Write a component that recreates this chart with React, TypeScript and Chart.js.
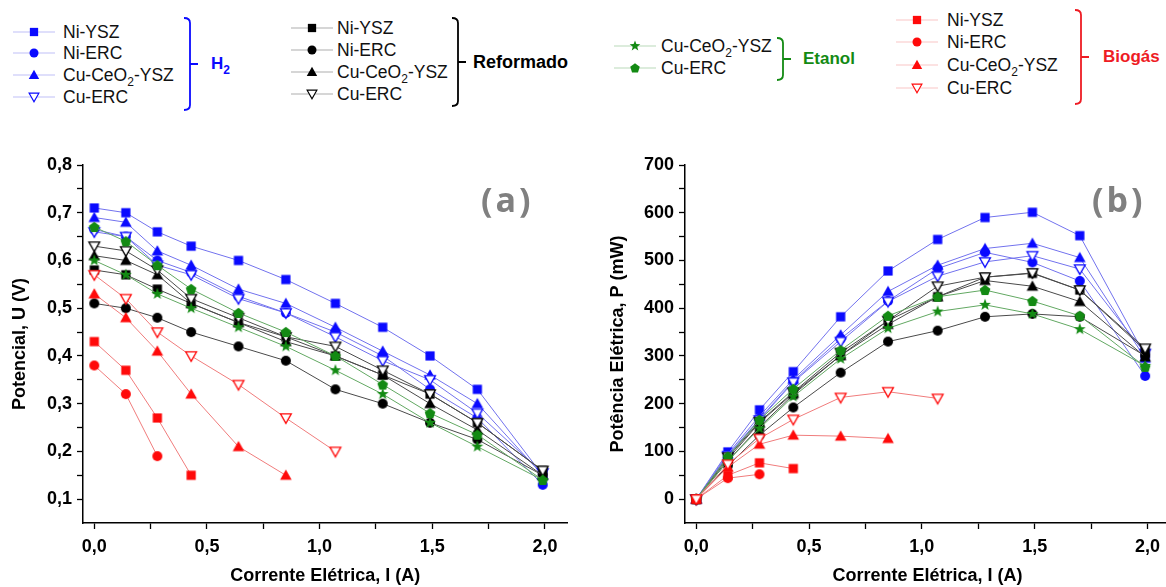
import React, { useEffect, useRef } from 'react';
import { Chart, registerables } from 'chart.js';

Chart.register(...registerables);

const FONT = "'Liberation Sans', Arial, Helvetica, sans-serif";

// ---------- data ----------
const currentI = [0, 0.14, 0.28, 0.43, 0.64, 0.85, 1.07, 1.28, 1.49, 1.7, 1.99];

const xTickValues = [0, 0.25, 0.5, 0.75, 1, 1.25, 1.5, 1.75, 2];
const xTickLabels = ['0,0', '', '0,5', '', '1,0', '', '1,5', '', '2,0'];
const uTickValues = [0.1, 0.15, 0.2, 0.25, 0.3, 0.35, 0.4, 0.45, 0.5, 0.55, 0.6, 0.65, 0.7, 0.75, 0.8];
const uTickLabels = ['0,1', '', '0,2', '', '0,3', '', '0,4', '', '0,5', '', '0,6', '', '0,7', '', '0,8'];
const pTickValues = [0, 50, 100, 150, 200, 250, 300, 350, 400, 450, 500, 550, 600, 650, 700];
const pTickLabels = ['0', '', '100', '', '200', '', '300', '', '400', '', '500', '', '600', '', '700'];

// Panel (a): Potencial U (V)
const uH2NiYSZ = [0.71, 0.70, 0.66, 0.63, 0.60, 0.56, 0.51, 0.46, 0.40, 0.33, 0.15];
const uH2NiERC = [0.665, 0.65, 0.60, 0.575, 0.525, 0.49, 0.45, 0.40, 0.33, 0.27, 0.13];
const uH2CuCeO2 = [0.69, 0.68, 0.62, 0.59, 0.54, 0.51, 0.46, 0.41, 0.36, 0.30, 0.15];
const uH2CuERC = [0.66, 0.65, 0.59, 0.57, 0.52, 0.49, 0.44, 0.39, 0.35, 0.28, 0.155];
const uRefNiYSZ = [0.58, 0.57, 0.54, 0.51, 0.47, 0.44, 0.40, 0.36, 0.32, 0.26, 0.16];
const uRefNiERC = [0.51, 0.50, 0.48, 0.45, 0.42, 0.39, 0.33, 0.30, 0.26, 0.225, 0.15];
const uRefCuCeO2 = [0.61, 0.60, 0.57, 0.51, 0.47, 0.43, 0.40, 0.36, 0.30, 0.245, 0.15];
const uRefCuERC = [0.63, 0.62, 0.58, 0.52, 0.48, 0.44, 0.42, 0.37, 0.32, 0.26, 0.16];
const uEtCuCeO2 = [0.60, 0.57, 0.53, 0.50, 0.46, 0.42, 0.37, 0.32, 0.26, 0.21, 0.14];
const uEtCuERC = [0.67, 0.64, 0.59, 0.54, 0.49, 0.45, 0.40, 0.34, 0.28, 0.235, 0.14];
const uBioNiYSZ = [0.43, 0.37, 0.27, 0.15];
const uBioNiERC = [0.38, 0.32, 0.19];
const uBioCuCeO2 = [0.53, 0.48, 0.41, 0.32, 0.21, 0.15];
const uBioCuERC = [0.57, 0.52, 0.45, 0.40, 0.34, 0.27, 0.20];

// Panel (b): Potência P (mW)
const pH2NiYSZ = [0, 99, 187, 267, 382, 478, 544, 590, 601, 552, 300];
const pH2NiERC = [0, 92, 168, 247, 336, 415, 483, 517, 496, 457, 258];
const pH2CuCeO2 = [0, 95, 174, 251, 344, 435, 490, 525, 536, 506, 295];
const pH2CuERC = [0, 91, 166, 245, 330, 414, 467, 497, 510, 482, 305];
const pRefNiYSZ = [0, 80, 151, 219, 301, 374, 424, 465, 473, 438, 312];
const pRefNiERC = [0, 70, 134, 192, 265, 330, 353, 382, 388, 382, 300];
const pRefCuCeO2 = [0, 84, 160, 222, 301, 366, 424, 458, 446, 414, 298];
const pRefCuERC = [0, 88, 162, 224, 307, 374, 446, 465, 474, 438, 316];
const pEtCuCeO2 = [0, 80, 148, 215, 294, 358, 393, 407, 388, 356, 279];
const pEtCuERC = [0, 89, 166, 231, 312, 384, 424, 438, 415, 384, 277];
const pBioNiYSZ = [0, 50, 76, 64];
const pBioNiERC = [0, 44, 52];
const pBioCuCeO2 = [0, 67, 115, 134, 132, 127];
const pBioCuERC = [0, 73, 127, 167, 213, 225, 211];

// ---------- styles ----------
type Shape = 'square' | 'circle' | 'triangle' | 'down' | 'star' | 'pentagon';

const BLUE = '#0a0aff';
const BLACK = '#000000';
const GREEN = '#138a13';
const RED = '#ff0a0a';
const BLUE_LINE = '#7272ee';
const BLACK_LINE = '#4a4a4a';
const GREEN_LINE = '#62a862';
const RED_LINE = '#f07c7c';

interface Series {
  label: string;
  group: string;
  shape: Shape;
  color: string;
  line: string;
  u: number[];
  p: number[];
}

const seriesList: Series[] = [
  { label: 'Ni-YSZ', group: 'H2', shape: 'square', color: BLUE, line: BLUE_LINE, u: uH2NiYSZ, p: pH2NiYSZ },
  { label: 'Ni-ERC', group: 'H2', shape: 'circle', color: BLUE, line: BLUE_LINE, u: uH2NiERC, p: pH2NiERC },
  { label: 'Cu-CeO2-YSZ', group: 'H2', shape: 'triangle', color: BLUE, line: BLUE_LINE, u: uH2CuCeO2, p: pH2CuCeO2 },
  { label: 'Cu-ERC', group: 'H2', shape: 'down', color: BLUE, line: BLUE_LINE, u: uH2CuERC, p: pH2CuERC },
  { label: 'Ni-YSZ', group: 'Reformado', shape: 'square', color: BLACK, line: BLACK_LINE, u: uRefNiYSZ, p: pRefNiYSZ },
  { label: 'Ni-ERC', group: 'Reformado', shape: 'circle', color: BLACK, line: BLACK_LINE, u: uRefNiERC, p: pRefNiERC },
  { label: 'Cu-CeO2-YSZ', group: 'Reformado', shape: 'triangle', color: BLACK, line: BLACK_LINE, u: uRefCuCeO2, p: pRefCuCeO2 },
  { label: 'Cu-ERC', group: 'Reformado', shape: 'down', color: BLACK, line: BLACK_LINE, u: uRefCuERC, p: pRefCuERC },
  { label: 'Cu-CeO2-YSZ', group: 'Etanol', shape: 'star', color: GREEN, line: GREEN_LINE, u: uEtCuCeO2, p: pEtCuCeO2 },
  { label: 'Cu-ERC', group: 'Etanol', shape: 'pentagon', color: GREEN, line: GREEN_LINE, u: uEtCuERC, p: pEtCuERC },
  { label: 'Ni-YSZ', group: 'Biogás', shape: 'square', color: RED, line: RED_LINE, u: uBioNiYSZ, p: pBioNiYSZ },
  { label: 'Ni-ERC', group: 'Biogás', shape: 'circle', color: RED, line: RED_LINE, u: uBioNiERC, p: pBioNiERC },
  { label: 'Cu-CeO2-YSZ', group: 'Biogás', shape: 'triangle', color: RED, line: RED_LINE, u: uBioCuCeO2, p: pBioCuCeO2 },
  { label: 'Cu-ERC', group: 'Biogás', shape: 'down', color: RED, line: RED_LINE, u: uBioCuERC, p: pBioCuERC },
];

// legend layout (positions only)
interface GroupLayout {
  group: string;
  title: string;
  color: string;
  segX: number;
  textX: number;
  rows: number[];
  bracketX: number;
  bracketTop: number;
  bracketBottom: number;
  bracketMid: number;
  titleX: number;
  titleSize: number;
}

const groupLayouts: GroupLayout[] = [
  { group: 'H2', title: 'H2', color: BLUE, segX: 13, textX: 63, rows: [32, 53, 75, 97], bracketX: 190, bracketTop: 18, bracketBottom: 110, bracketMid: 64, titleX: 211, titleSize: 17 },
  { group: 'Reformado', title: 'Reformado', color: BLACK, segX: 291, textX: 337, rows: [28, 50, 72, 94], bracketX: 458, bracketTop: 18, bracketBottom: 106, bracketMid: 62, titleX: 473, titleSize: 18 },
  { group: 'Etanol', title: 'Etanol', color: GREEN, segX: 614, textX: 661, rows: [46, 68], bracketX: 783, bracketTop: 38, bracketBottom: 80, bracketMid: 59, titleX: 803, titleSize: 17 },
  { group: 'Biogás', title: 'Biogás', color: '#ee1c24', segX: 896, textX: 947, rows: [20, 42, 65, 88], bracketX: 1081, bracketTop: 10, bracketBottom: 104, bracketMid: 57, titleX: 1103, titleSize: 17 },
];

// ---------- marker geometry ----------
function shapePoints(shape: Shape, s: number): number[][] {
  switch (shape) {
    case 'square': {
      const h = s * 0.46;
      return [[-h, -h], [h, -h], [h, h], [-h, h]];
    }
    case 'triangle':
      return [[0, -0.58 * s], [0.58 * s, 0.44 * s], [-0.58 * s, 0.44 * s]];
    case 'down':
      return [[-0.54 * s, -0.42 * s], [0.54 * s, -0.42 * s], [0, 0.54 * s]];
    case 'star': {
      const pts: number[][] = [];
      for (let i = 0; i < 10; i++) {
        const r = i % 2 === 0 ? 0.62 * s : 0.26 * s;
        const a = -Math.PI / 2 + (i * Math.PI) / 5;
        pts.push([r * Math.cos(a), r * Math.sin(a)]);
      }
      return pts;
    }
    case 'pentagon': {
      const pts: number[][] = [];
      for (let i = 0; i < 5; i++) {
        const a = -Math.PI / 2 + (i * 2 * Math.PI) / 5;
        pts.push([0.56 * s * Math.cos(a), 0.56 * s * Math.sin(a) + 0.04 * s]);
      }
      return pts;
    }
    default:
      return [];
  }
}

function makeMarker(shape: Shape, color: string, size: number): HTMLCanvasElement {
  const c = document.createElement('canvas');
  const dim = 18;
  c.width = dim;
  c.height = dim;
  const ctx = c.getContext('2d') as CanvasRenderingContext2D;
  const cx = dim / 2;
  const cy = dim / 2;
  ctx.beginPath();
  if (shape === 'circle') {
    ctx.arc(cx, cy, size / 2, 0, Math.PI * 2);
  } else {
    shapePoints(shape, size).forEach(([px, py], i) => {
      if (i === 0) ctx.moveTo(cx + px, cy + py);
      else ctx.lineTo(cx + px, cy + py);
    });
    ctx.closePath();
  }
  if (shape === 'down') {
    ctx.fillStyle = '#ffffff';
    ctx.fill();
    ctx.lineWidth = 1.3;
    ctx.strokeStyle = color;
    ctx.stroke();
  } else {
    ctx.fillStyle = color;
    ctx.fill();
  }
  return c;
}

function SvgMarker({ shape, color, cx, cy, size }: { shape: Shape; color: string; cx: number; cy: number; size: number }) {
  if (shape === 'circle') return <circle cx={cx} cy={cy} r={size / 2} fill={color} />;
  const pts = shapePoints(shape, size).map(([x, y]) => `${cx + x},${cy + y}`).join(' ');
  if (shape === 'down') return <polygon points={pts} fill="#fff" stroke={color} strokeWidth={1.2} />;
  return <polygon points={pts} fill={color} />;
}

function renderLabel(text: string) {
  const idx = text.indexOf('O2');
  if (idx < 0) return text;
  return (
    <>
      {text.slice(0, idx + 1)}
      <span style={{ fontSize: 12, position: 'relative', top: 5 }}>2</span>
      {text.slice(idx + 2)}
    </>
  );
}

function tickFont() {
  return { family: FONT, size: 18, weight: 'bold' as const };
}

function buildChart(
  canvas: HTMLCanvasElement,
  which: 'u' | 'p',
  markers: HTMLCanvasElement[],
): Chart {
  const isU = which === 'u';
  const datasets = seriesList.map((s, idx) => {
    const vals = isU ? s.u : s.p;
    return {
      label: `${s.group} ${s.label}`,
      data: vals.map((v, i) => ({ x: currentI[i], y: v })),
      borderColor: s.line,
      backgroundColor: s.color,
      borderWidth: 1,
      pointStyle: markers[idx],
      pointRadius: 5,
      pointHoverRadius: 5,
      tension: 0,
      fill: false,
      order: seriesList.length - idx,
    };
  });
  const yVals = isU ? uTickValues : pTickValues;
  const yLabels = isU ? uTickLabels : pTickLabels;
  return new Chart(canvas, {
    type: 'line',
    data: { datasets: datasets as any },
    options: {
      animation: false,
      responsive: false,
      devicePixelRatio: 1,
      events: [],
      layout: {
        padding: isU ? { top: 25, left: 0, right: 22.5, bottom: 0 } : { top: 25, left: 0, right: 20, bottom: 0 },
      },
      plugins: {
        legend: { display: false },
        tooltip: { enabled: false },
      },
      scales: {
        x: {
          type: 'linear',
          min: -0.05,
          max: 2.1,
          afterBuildTicks: (scale: any) => {
            scale.ticks = xTickValues.map((v) => ({ value: v }));
          },
          afterFit: (scale: any) => {
            scale.height = 64;
          },
          ticks: {
            autoSkip: false,
            maxRotation: 0,
            minRotation: 0,
            padding: 7,
            color: '#000',
            font: tickFont(),
            callback: (_v: any, i: number) => xTickLabels[i],
          },
          grid: {
            drawOnChartArea: false,
            drawTicks: true,
            tickLength: 6,
            tickColor: '#000',
            tickWidth: 1.3,
          },
          border: { display: true, color: '#000', width: 1.5 },
          title: {
            display: true,
            text: 'Corrente Elétrica, I (A)',
            color: '#000',
            font: { family: FONT, size: 18, weight: 'bold' },
            padding: { top: 0, bottom: 0 },
          },
        },
        y: {
          type: 'linear',
          min: isU ? 0.05 : -50,
          max: isU ? 0.8 : 700,
          afterBuildTicks: (scale: any) => {
            scale.ticks = yVals.map((v) => ({ value: v }));
          },
          afterFit: (scale: any) => {
            scale.width = isU ? 83 : 95;
          },
          ticks: {
            autoSkip: false,
            padding: 5,
            color: '#000',
            font: tickFont(),
            callback: (_v: any, i: number) => yLabels[i],
          },
          grid: {
            drawOnChartArea: false,
            drawTicks: true,
            tickLength: 6,
            tickColor: '#000',
            tickWidth: 1.3,
          },
          border: { display: true, color: '#000', width: 1.5 },
          title: {
            display: true,
            text: isU ? 'Potencial, U (V)' : 'Potência Elétrica, P (mW)',
            color: '#000',
            font: { family: FONT, size: 18, weight: 'bold' },
            padding: { top: isU ? 9 : 17, bottom: 0 },
          },
        },
      },
    } as any,
  });
}

export default function App() {
  const refA = useRef<HTMLCanvasElement>(null);
  const refB = useRef<HTMLCanvasElement>(null);

  useEffect(() => {
    const markers = seriesList.map((s) => makeMarker(s.shape, s.color, 10));
    const a = buildChart(refA.current as HTMLCanvasElement, 'u', markers);
    const b = buildChart(refB.current as HTMLCanvasElement, 'p', markers);
    return () => {
      a.destroy();
      b.destroy();
    };
  }, []);

  const panelLabel: React.CSSProperties = {
    position: 'absolute',
    top: 178,
    fontFamily: "'Open Sans', sans-serif",
    fontWeight: 700,
    fontSize: 34,
    letterSpacing: 3,
    color: '#808080',
    lineHeight: '42px',
  };

  return (
    <div
      style={{
        position: 'absolute',
        left: 0,
        top: 0,
        width: 1166,
        height: 587,
        overflow: 'hidden',
        background: '#fff',
        fontFamily: FONT,
      }}
    >
      <svg width={1166} height={140} style={{ position: 'absolute', left: 0, top: 0 }}>
        {groupLayouts.map((g) => {
          const x = g.bracketX;
          const d = `M ${x - 6} ${g.bracketTop} Q ${x} ${g.bracketTop} ${x} ${g.bracketTop + 5} V ${g.bracketBottom - 5} Q ${x} ${g.bracketBottom} ${x - 6} ${g.bracketBottom} M ${x} ${g.bracketMid} H ${x + 8}`;
          return <path key={g.group} d={d} fill="none" stroke={g.color} strokeWidth={1.8} />;
        })}
        {groupLayouts.map((g) => {
          const items = seriesList.filter((s) => s.group === g.group);
          return items.map((s, i) => (
            <g key={`${g.group}-${i}`}>
              <line x1={g.segX} y1={g.rows[i]} x2={g.segX + 42} y2={g.rows[i]} stroke={s.line} strokeOpacity={0.45} strokeWidth={1.2} />
              <SvgMarker shape={s.shape} color={s.color} cx={g.segX + 21} cy={g.rows[i]} size={9} />
            </g>
          ));
        })}
      </svg>
      {groupLayouts.map((g) => {
        const items = seriesList.filter((s) => s.group === g.group);
        return items.map((s, i) => (
          <div
            key={`t-${g.group}-${i}`}
            style={{
              position: 'absolute',
              left: g.textX,
              top: g.rows[i] - 10,
              height: 20,
              lineHeight: '20px',
              fontSize: 17.5,
              color: '#111',
              whiteSpace: 'nowrap',
            }}
          >
            {renderLabel(s.label)}
          </div>
        ));
      })}
      {groupLayouts.map((g) => (
        <div
          key={`g-${g.group}`}
          style={{
            position: 'absolute',
            left: g.titleX,
            top: g.bracketMid - 11,
            height: 22,
            lineHeight: '22px',
            fontSize: g.titleSize,
            fontWeight: 'bold',
            color: g.color,
            whiteSpace: 'nowrap',
          }}
        >
          {g.title === 'H2' ? (
            <>
              H<span style={{ fontSize: 12, position: 'relative', top: 5 }}>2</span>
            </>
          ) : (
            g.title
          )}
        </div>
      ))}

      <canvas ref={refA} width={590} height={447} style={{ position: 'absolute', left: 0, top: 140 }} />
      <canvas ref={refB} width={600} height={447} style={{ position: 'absolute', left: 590, top: 140 }} />

      <div style={{ ...panelLabel, left: 481 }}>(a)</div>
      <div style={{ ...panelLabel, left: 1092 }}>(b)</div>
    </div>
  );
}
